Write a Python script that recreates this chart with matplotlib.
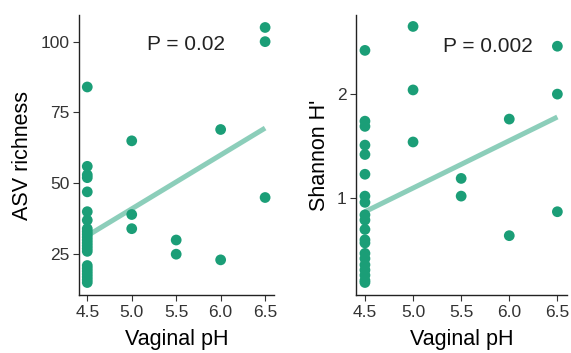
import numpy as np
import matplotlib.pyplot as plt

plt.rcParams['font.family'] = ['Liberation Sans', 'DejaVu Sans']

# richness panel
ph_rich = [4.5] * 23 + [5.0] * 3 + [5.5] * 2 + [6.0] * 2 + [6.5] * 3
richness = [84, 56, 53, 52, 47, 40, 37, 34, 33, 32, 31, 30, 29, 28, 27, 26,
            21, 20, 19, 18, 17, 16, 15,
            65, 39, 34,
            30, 25,
            69, 23,
            105, 100, 45]

# shannon panel
ph_shan = [4.5] * 20 + [5.0] * 3 + [5.5] * 2 + [6.0] * 2 + [6.5] * 3
shannon = [2.42, 1.74, 1.69, 1.51, 1.42, 1.23, 1.02, 0.96, 0.84, 0.79, 0.70,
           0.60, 0.57, 0.47, 0.42, 0.36, 0.31, 0.26, 0.21, 0.19,
           2.65, 2.04, 1.54,
           1.19, 1.02,
           1.76, 0.64,
           2.46, 2.00, 0.87]

# fitted lines
fit_ph = [4.5, 6.5]
fit_rich = [31.5, 69.5]
fit_shan = [0.87, 1.78]

p_labels = ['P = 0.02', 'P = 0.002']

green = '#1b9e77'

fig = plt.figure(figsize=(5.71, 3.53), dpi=100)
ax1 = fig.add_axes([79/571, 1-295/353, 195/571, 280/353])
ax2 = fig.add_axes([356/571, 1-295/353, 211/571, 280/353])

panels = [(ax1, ph_rich, richness, fit_rich, 'ASV richness', (10.6, 109.4), [25, 50, 75, 100], p_labels[0], (0.55, 0.893)),
          (ax2, ph_shan, shannon, fit_shan, "Shannon H'", (0.07, 2.76), [1, 2], p_labels[1], (0.625, 0.887))]

for ax, x, y, fy, lab, ylim, yt, ptxt, ppos in panels:
    ax.plot(fit_ph, fy, color=green, alpha=0.5, lw=3.6, solid_capstyle='butt', zorder=1)
    ax.scatter(x, y, s=60, color=green, edgecolors='none', zorder=2)
    ax.set_xlim(4.407, 6.6)
    ax.set_ylim(*ylim)
    ax.set_xticks([4.5, 5.0, 5.5, 6.0, 6.5])
    ax.set_xticklabels(['4.5', '5.0', '5.5', '6.0', '6.5'])
    ax.set_yticks(yt)
    ax.spines['top'].set_visible(False)
    ax.spines['right'].set_visible(False)
    for s in ['left', 'bottom']:
        ax.spines[s].set_linewidth(1.0)
        ax.spines[s].set_color('#222222')
    ax.tick_params(labelsize=12.5, colors='#333333', length=4, width=0.8, pad=3)
    ax.set_xlabel('Vaginal pH', fontsize=15.5, labelpad=7)
    ax.set_ylabel(lab, fontsize=15.5, labelpad=5)
    ax.text(ppos[0], ppos[1], ptxt, transform=ax.transAxes, ha='center', va='center', fontsize=15, color='#222222')

fig.savefig('out.png', dpi=100)
